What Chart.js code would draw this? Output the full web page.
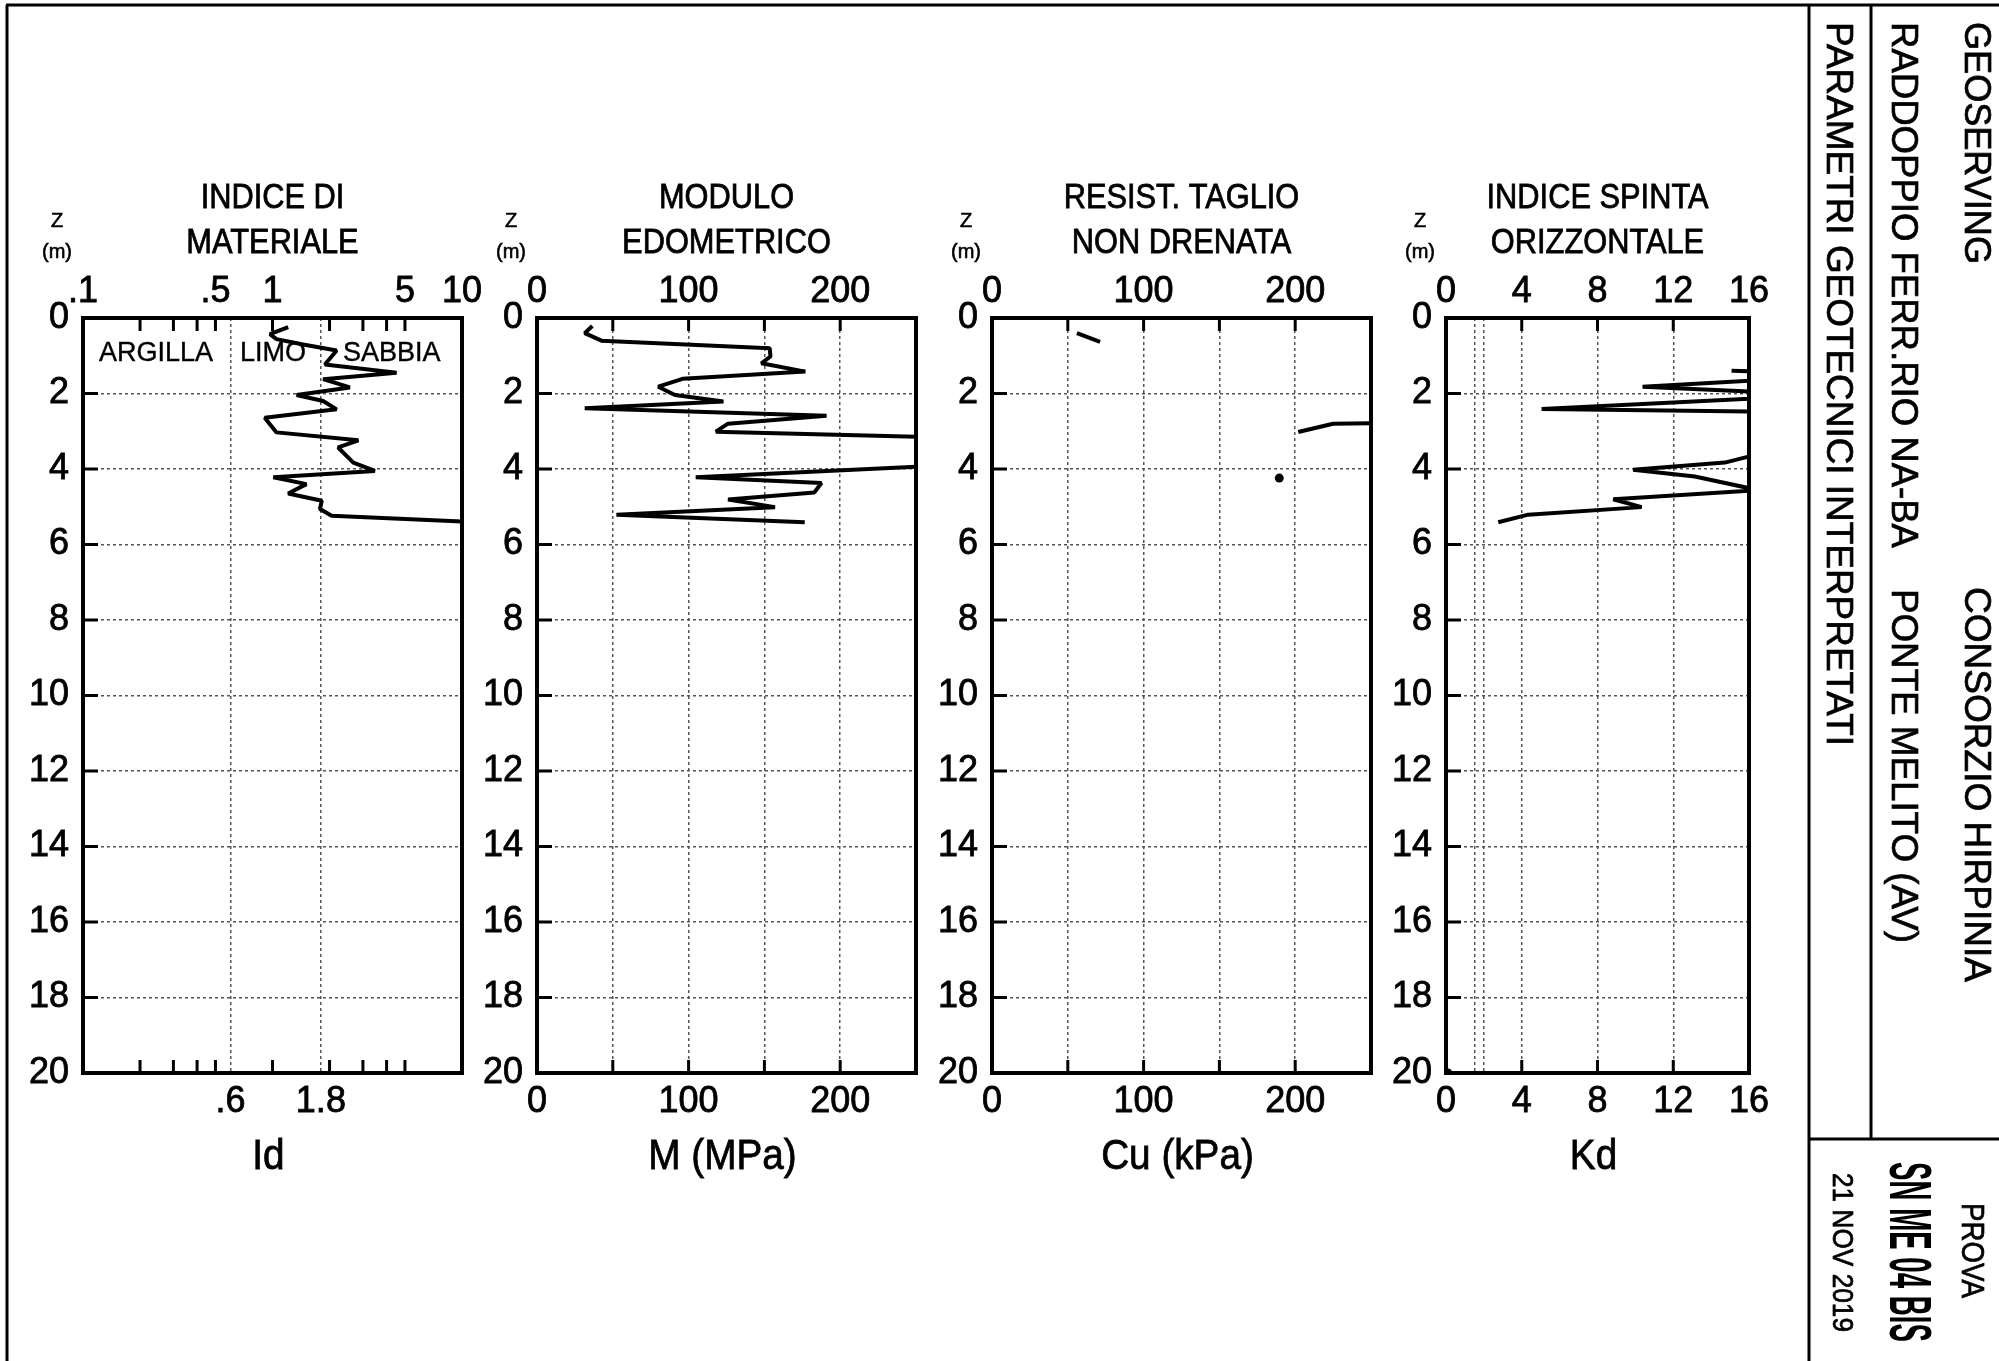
<!DOCTYPE html>
<html>
<head>
<meta charset="utf-8">
<script src="https://cdn.jsdelivr.net/npm/chart.js@4.4.1/dist/chart.umd.min.js"></script>
<style>
html, body { margin: 0; padding: 0; background: #fff; width: 1999px; height: 1361px; overflow: hidden; }
canvas { position: absolute; }
</style>
</head>
<body>
<canvas id="frame" width="1999" height="1361" style="left:0;top:0"></canvas>
<canvas id="c1"></canvas>
<canvas id="c2"></canvas>
<canvas id="c3"></canvas>
<canvas id="c4"></canvas>
<script>
// profondita' comune
var zTicks = [0, 2, 4, 6, 8, 10, 12, 14, 16, 18, 20];
var zInTicks = [2, 4, 6, 8, 10, 12, 14, 16, 18];

// Id - indice di materiale (scala log)
var idDepth = [0.24, 0.43, 0.56, 0.70, 0.86, 1.23, 1.45, 1.62, 1.84, 2.04, 2.20, 2.42, 2.64, 3.03, 3.24, 3.43, 3.83, 4.05, 4.22, 4.40, 4.65, 4.84, 5.06, 5.24, 5.39];
var idValue = [1.21, 0.97, 1.05, 1.45, 2.18, 1.89, 4.52, 1.85, 2.56, 1.34, 1.85, 2.18, 0.91, 1.05, 2.84, 2.22, 2.67, 3.47, 1.01, 1.51, 1.21, 1.82, 1.78, 2.05, 10];
var idTopTicks = [0.1, 0.5, 1, 5, 10];
var idTopLabels = ['.1', '.5', '1', '5', '10'];
var idBotTicks = [0.6, 1.8];
var idBotLabels = ['.6', '1.8'];
var idMinor = [0.2, 0.3, 0.4, 0.5, 1, 2, 3, 4, 5];

// M - modulo edometrico (MPa)
var mDepth = [0.21, 0.40, 0.60, 0.80, 1.02, 1.20, 1.42, 1.61, 1.82, 2.04, 2.21, 2.39, 2.59, 2.80, 3.01, 3.20, 3.84, 4.22, 4.37, 4.62, 4.81, 5.01, 5.21, 5.41];
var mValue = [36.5, 31.5, 42.5, 153.5, 154, 148, 177, 96, 80, 91, 123, 31.5, 191, 126, 118, 300, 300, 104.7, 187.6, 183, 126, 157, 52.4, 176.6];

// Cu - resistenza al taglio non drenata (kPa), null = interruzione
var cuDepth = [0.40, 0.63, null, 2.78, 2.80, 3.02, null, 4.24];
var cuValue = [56, 71.3, null, 260, 225, 202, null, 189.5];

var mcTicks = [0, 50, 100, 150, 200, 250];
var mcLabels = ['0', '', '100', '', '200', ''];
var mcMinor = [50, 100, 150, 200];

// Kd - indice spinta orizzontale
var kdDepth = [1.40, 1.46, 1.55, 1.82, 2.04, 2.41, 2.50, 3.16, 3.83, 4.02, 4.20, 4.56, 4.80, 5.01, 5.21, 5.41, null, 20];
var kdValue = [15.08, 20, 20, 10.38, 20, 5.05, 20, 20, 14.72, 9.88, 13.14, 16.5, 8.83, 10.33, 4.34, 2.76, null, 0.1];
var kdTopTicks = [0, 4, 8, 12, 16];
var kdTopLabels = ['0', '4', '8', '12', '16'];
var kdBotTicks = [0, 1.5, 2, 4, 8, 12, 16];
var kdBotLabels = ['0', '', '', '4', '8', '12', '16'];
var kdMinor = [4, 8, 12];

var FONT = '"Liberation Sans", Arial, sans-serif';
var NARROW = '"Liberation Sans Narrow", "Liberation Sans", Arial, sans-serif';
var TOP = 318, BOTTOM = 1073, CTOP = 150, CBOT = 1210, PADL = 90, PADR = 45;

function txt(ctx, s, x, y, size, align, sx, stroke) {
    ctx.save();
    ctx.font = size + 'px ' + FONT;
    ctx.fillStyle = '#000';
    ctx.strokeStyle = '#000';
    ctx.textAlign = 'left';
    ctx.textBaseline = 'alphabetic';
    var w = ctx.measureText(s).width * sx;
    var x0 = align == 'center' ? x - w / 2 : (align == 'right' ? x - w : x);
    ctx.translate(x0, y);
    ctx.scale(sx, 1);
    ctx.fillText(s, 0, 0);
    if (stroke) { ctx.lineWidth = stroke; ctx.strokeText(s, 0, 0); }
    ctx.restore();
}

// punto isolato (senza vicini) -> pallino
function loneDot(c) {
    var d = c.dataset.data, i = c.dataIndex;
    if (d[i].y == null) return 0;
    var prev = d[i - 1], next = d[i + 1];
    return ((!prev || prev.y == null) && (!next || next.y == null)) ? 4.5 : 0;
}

function panelPlugin(p) {
    return {
        id: 'deco_' + p.id,
        afterDraw: function (chart) {
            var ctx = chart.ctx, a = chart.chartArea, xs = chart.scales.x, ys = chart.scales.y;
            ctx.save();
            ctx.strokeStyle = '#000';
            ctx.lineWidth = 3;
            ctx.beginPath();
            p.inTicks.forEach(function (v) {
                var px = xs.getPixelForValue(v);
                ctx.moveTo(px, a.top); ctx.lineTo(px, a.top + 13);
                ctx.moveTo(px, a.bottom); ctx.lineTo(px, a.bottom - 13);
            });
            zInTicks.forEach(function (v) {
                var py = ys.getPixelForValue(v);
                ctx.moveTo(a.left, py); ctx.lineTo(a.left + 15, py);
            });
            ctx.stroke();
            ctx.lineWidth = 4;
            ctx.strokeRect(a.left, a.top, a.right - a.left, a.bottom - a.top);
            ctx.restore();

            var cx = (a.left + a.right) / 2;
            txt(ctx, p.title[0], cx, 208 - CTOP, 35, 'center', 0.88, 0.8);
            txt(ctx, p.title[1], cx, 253 - CTOP, 35, 'center', 0.88, 0.8);
            txt(ctx, 'Z', a.left - 26, 227 - CTOP, 20, 'center', 1, 0.6);
            txt(ctx, '(m)', a.left - 26, 258 - CTOP, 20, 'center', 1, 0.6);
            txt(ctx, p.xTitle, cx - 4, 1169 - CTOP, 43, 'center', 0.9, 0.8);
            if (p.soil) {
                txt(ctx, 'ARGILLA', a.left + 16, 361 - CTOP, 27, 'left', 1, 0.4);
                txt(ctx, 'LIMO', a.left + 157, 361 - CTOP, 27, 'left', 1, 0.4);
                txt(ctx, 'SABBIA', a.left + 260, 361 - CTOP, 27, 'left', 1, 0.4);
            }
        }
    };
}

function buildPanel(p) {
    var cv = document.getElementById(p.id);
    cv.width = p.right - p.left + PADL + PADR;
    cv.height = CBOT - CTOP;
    cv.style.left = (p.left - PADL) + 'px';
    cv.style.top = CTOP + 'px';

    var pts = [];
    for (var i = 0; i < p.depth.length; i++) pts.push({ x: p.value[i], y: p.depth[i] });

    var tickFont = { family: NARROW, size: 36 };
    function axisX(pos, ticks, labels, grid) {
        return {
            type: p.type, position: pos, min: p.min, max: p.max,
            afterBuildTicks: function (s) { s.ticks = ticks.map(function (v) { return { value: v }; }); },
            afterFit: function (s) { s.height = pos == 'top' ? TOP - CTOP : CBOT - BOTTOM; },
            ticks: {
                autoSkip: false, maxRotation: 0, minRotation: 0, color: '#000', font: tickFont,
                textStrokeColor: '#000', textStrokeWidth: 0.8,
                padding: pos == 'top' ? 4 : 7,
                callback: function (v, i) { return labels[i]; }
            },
            grid: { display: grid, drawTicks: false, color: '#555', lineWidth: 1.5 },
            border: { display: false, dash: [3, 3] }
        };
    }

    return new Chart(cv, {
        type: 'scatter',
        data: {
            datasets: [{
                data: pts,
                showLine: true,
                spanGaps: false,
                borderColor: '#000',
                backgroundColor: '#000',
                borderWidth: 4,
                borderJoinStyle: 'bevel',
                pointRadius: loneDot,
                pointHoverRadius: 0,
                pointBorderWidth: 0
            }]
        },
        options: {
            responsive: false,
            animation: false,
            events: [],
            layout: { autoPadding: false, padding: { left: 0, right: PADR, top: 0, bottom: 0 } },
            plugins: { legend: { display: false }, tooltip: { enabled: false } },
            scales: {
                x: axisX('top', p.topTicks, p.topLabels, false),
                x2: axisX('bottom', p.botTicks, p.botLabels, true),
                y: {
                    type: 'linear', position: 'left', reverse: true, min: 0, max: 20,
                    afterBuildTicks: function (s) { s.ticks = zTicks.map(function (v) { return { value: v }; }); },
                    afterFit: function (s) { s.width = PADL; },
                    ticks: { color: '#000', font: tickFont, padding: 14, textStrokeColor: '#000', textStrokeWidth: 0.8,
                             callback: function (v) { return String(v); } },
                    grid: { drawTicks: false, color: '#555', lineWidth: 1.5 },
                    border: { display: false, dash: [3, 3] }
                }
            }
        },
        plugins: [panelPlugin(p)]
    });
}

var panels = [
    { id: 'c1', left: 83, right: 462, type: 'logarithmic', min: 0.1, max: 10, depth: idDepth, value: idValue,
      topTicks: idTopTicks, topLabels: idTopLabels, botTicks: idBotTicks, botLabels: idBotLabels, inTicks: idMinor,
      title: ['INDICE DI', 'MATERIALE'], xTitle: 'Id', soil: true },
    { id: 'c2', left: 537, right: 916, type: 'linear', min: 0, max: 250, depth: mDepth, value: mValue,
      topTicks: mcTicks, topLabels: mcLabels, botTicks: mcTicks, botLabels: mcLabels, inTicks: mcMinor,
      title: ['MODULO', 'EDOMETRICO'], xTitle: 'M (MPa)' },
    { id: 'c3', left: 992, right: 1371, type: 'linear', min: 0, max: 250, depth: cuDepth, value: cuValue,
      topTicks: mcTicks, topLabels: mcLabels, botTicks: mcTicks, botLabels: mcLabels, inTicks: mcMinor,
      title: ['RESIST. TAGLIO', 'NON DRENATA'], xTitle: 'Cu (kPa)' },
    { id: 'c4', left: 1446, right: 1749, type: 'linear', min: 0, max: 16, depth: kdDepth, value: kdValue,
      topTicks: kdTopTicks, topLabels: kdTopLabels, botTicks: kdBotTicks, botLabels: kdBotLabels, inTicks: kdMinor,
      title: ['INDICE SPINTA', 'ORIZZONTALE'], xTitle: 'Kd' }
];
panels.forEach(buildPanel);

// cornice e cartiglio
var fc = document.getElementById('frame').getContext('2d');
fc.strokeStyle = '#000';
fc.lineWidth = 3;
fc.beginPath();
fc.moveTo(6, 5); fc.lineTo(1999, 5);
fc.moveTo(7, 5); fc.lineTo(7, 1361);
fc.moveTo(1809, 5); fc.lineTo(1809, 1361);
fc.moveTo(1871, 5); fc.lineTo(1871, 1139);
fc.moveTo(1809, 1139); fc.lineTo(1999, 1139);
fc.stroke();

function vtxt(s, xBase, yStart, size, len, weight) {
    fc.save();
    fc.font = (weight || 'normal') + ' ' + size + 'px ' + FONT;
    fc.fillStyle = '#000';
    fc.strokeStyle = '#000';
    fc.lineWidth = 0.7;
    fc.textBaseline = 'alphabetic';
    var w = fc.measureText(s).width;
    fc.translate(xBase, yStart);
    fc.rotate(Math.PI / 2);
    fc.scale(len ? len / w : 1, 1);
    fc.fillText(s, 0, 0);
    if (!weight) fc.strokeText(s, 0, 0);
    fc.restore();
}
vtxt('GEOSERVING', 1965, 22, 36, 242);
vtxt('CONSORZIO HIRPINIA', 1965, 587, 36, 395);
vtxt('RADDOPPIO FERR.RIO NA-BA', 1892, 22, 36, 526);
vtxt('PONTE MELITO (AV)', 1892, 589, 36, 354);
vtxt('PARAMETRI GEOTECNICI INTERPRETATI', 1827, 22, 36, 724);
vtxt('PROVA', 1962, 1203, 32, 95);
vtxt('SN ME 04 BIS', 1890, 1162, 60, 180, 'bold');
vtxt('21 NOV 2019', 1833, 1173, 30, 159);
</script>
</body>
</html>
